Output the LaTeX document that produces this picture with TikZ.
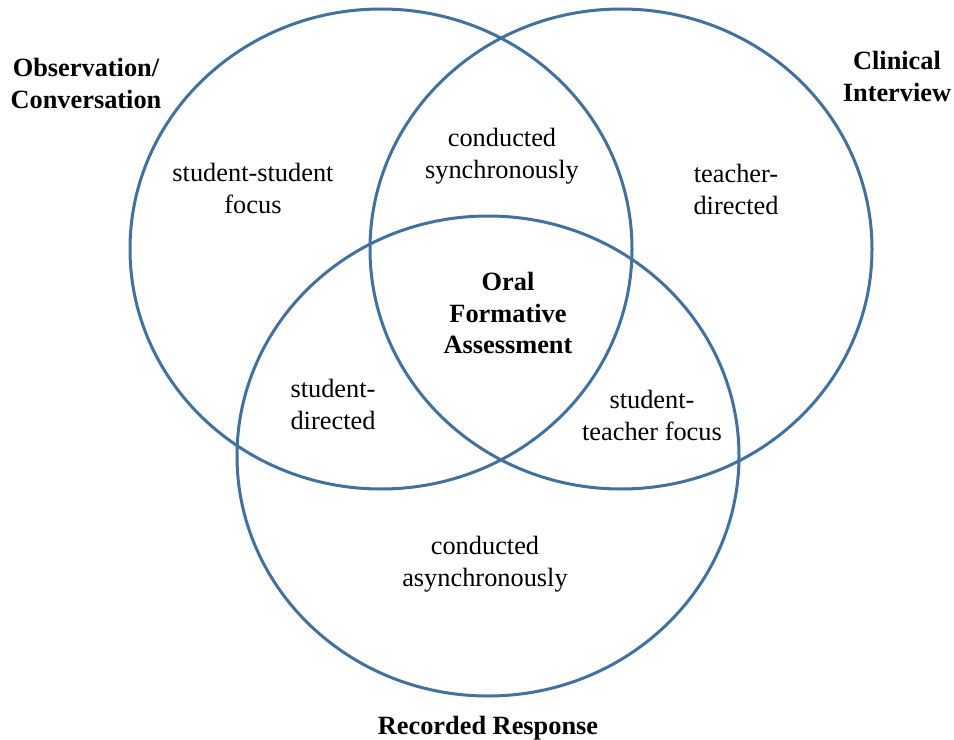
\documentclass[tikz,border=0pt]{standalone}
\usepackage{fontspec}
\setmainfont{Liberation Serif}
\definecolor{vennblue}{RGB}{65,113,156}
\tikzset{
	ring/.style={line width=0.06cm, color=vennblue},
	tag/.style={align=center, font=\fontsize{15}{18.2}\selectfont},
	title/.style={tag, font=\fontsize{15}{18.2}\selectfont\bfseries}
}

\begin{document}
\begin{tikzpicture}[x=0.02cm, y=-0.02cm]
			%%%%% START %%%%%
			
			\useasboundingbox (0, 0) rectangle (954, 740);
			
			\draw[ring] (381, 249) ellipse (251 and 240);
			\draw[ring] (621, 249) ellipse (251 and 240);
			\draw[ring] (488, 456) ellipse (251 and 240);
			
			\node[title] (observe) at (86, 83) {Observation/\\Conversation};
			\node[title] (clinical) at (897, 76) {Clinical\\Interview};
			\node[title] (recorded) at (488, 728) {Recorded Response};
			
			\node[tag] (studfocus) at (253, 188) {student-student\\focus};
			\node[tag] (sync) at (502, 156) {conducted\\synchronously};
			\node[tag] (teachdir) at (736, 189) {teacher-\\directed};
			\node[title] (oral) at (508, 313) {Oral\\Formative\\Assessment};
			\node[tag] (studdir) at (333, 404) {student-\\directed};
			\node[tag] (studteach) at (652, 415) {student-\\teacher focus};
			\node[tag] (async) at (485, 564) {conducted\\asynchronously};
			
			%%%%% END %%%%%
\end{tikzpicture}
\end{document}
